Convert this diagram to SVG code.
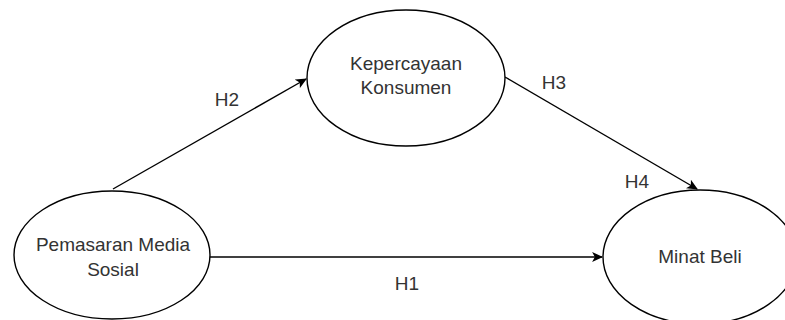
<svg xmlns="http://www.w3.org/2000/svg" width="785" height="320" viewBox="0 0 785 320">
  <style>
    .node { fill: #ffffff; stroke: #000000; stroke-width: 1.4; }
    .edge { fill: none; stroke: #000000; stroke-width: 1.4; }
    text { font-family: "Liberation Sans", Arial, sans-serif; font-size: 19px; fill: #333333; text-anchor: middle; }
  </style>
  <defs>
    <!-- classic block arrowhead used on every connector -->
    <marker id="arrow" viewBox="0 0 10 10" refX="9" refY="5" markerWidth="11" markerHeight="11" markerUnits="userSpaceOnUse" orient="auto">
      <path d="M0,0.5 L10,5 L0,9.5 L2.5,5 Z" fill="#000000"/>
    </marker>
  </defs>
  <rect width="785" height="320" fill="#ffffff"/>

  <g id="connectors">
    <line class="edge" x1="210" y1="257" x2="602" y2="257" marker-end="url(#arrow)"/>
    <line class="edge" x1="113" y1="189" x2="306" y2="79" marker-end="url(#arrow)"/>
    <line class="edge" x1="505" y1="77" x2="697" y2="189" marker-end="url(#arrow)"/>
    <text x="227" y="106">H2</text>
    <text x="554" y="89">H3</text>
    <text x="637" y="188">H4</text>
    <text x="407" y="290">H1</text>
  </g>

  <g id="pemasaran">
    <ellipse class="node" cx="112" cy="255" rx="98" ry="64"/>
    <text x="113" y="251">Pemasaran Media</text>
    <text x="113" y="276">Sosial</text>
  </g>

  <g id="kepercayaan">
    <ellipse class="node" cx="406" cy="78" rx="99" ry="68"/>
    <text x="406" y="70">Kepercayaan</text>
    <text x="406" y="94">Konsumen</text>
  </g>

  <g id="minat">
    <ellipse class="node" cx="700" cy="257" rx="97" ry="67"/>
    <text x="700" y="263">Minat Beli</text>
  </g>
</svg>
